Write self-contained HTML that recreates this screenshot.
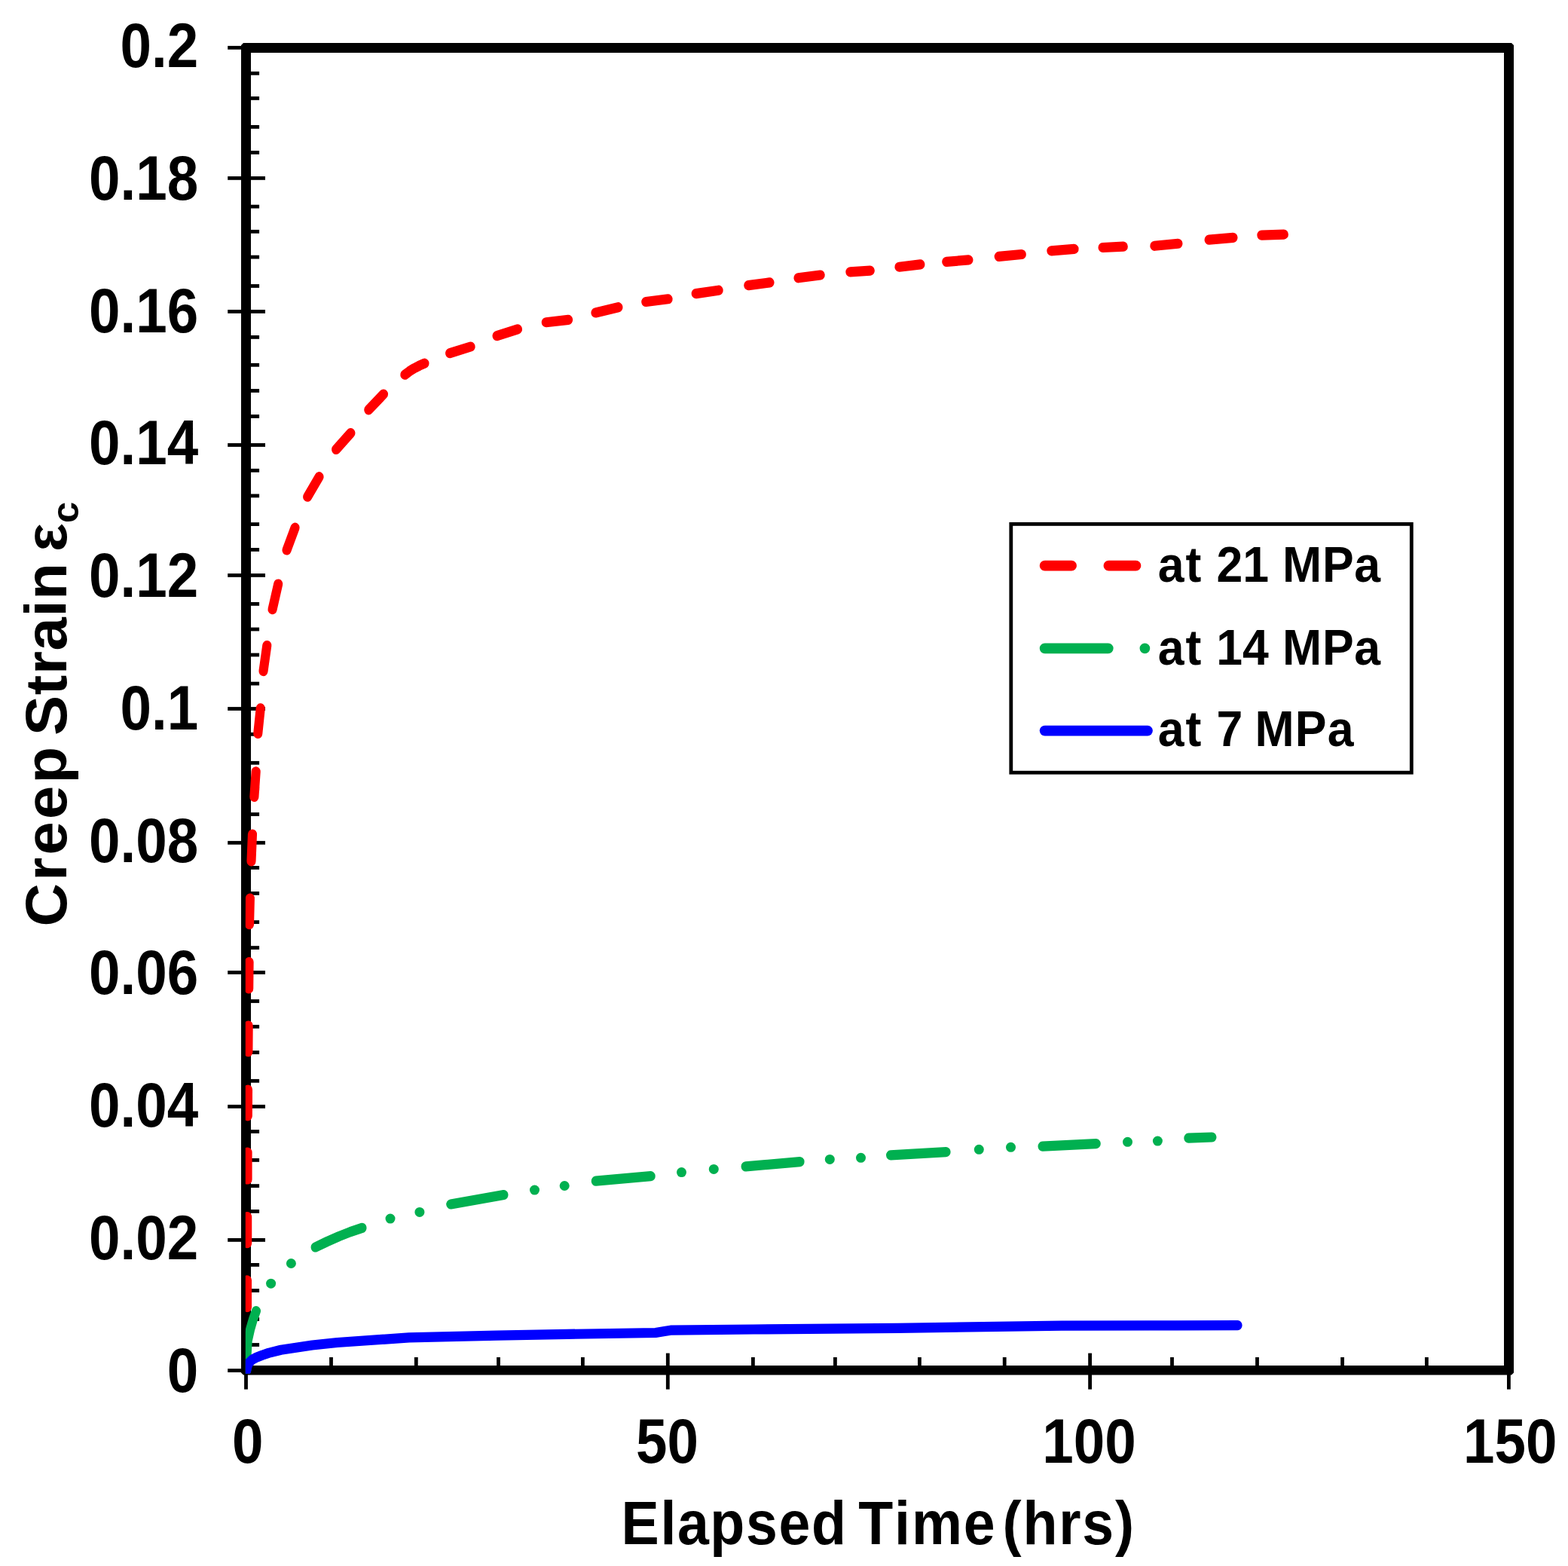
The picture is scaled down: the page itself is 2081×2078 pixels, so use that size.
<!DOCTYPE html>
<html lang="en">
<head>
<meta charset="utf-8">
<title>Creep Strain vs Elapsed Time</title>
<style>
html,body{margin:0;padding:0;background:#fff;}
body{width:2081px;height:2078px;overflow:hidden;}
svg{display:block;}
text{font-family:"Liberation Sans",Arial,Helvetica,sans-serif;font-weight:bold;font-size:100px;fill:#000;font-kerning:none;}
</style>
</head>
<body>
<svg width="2081" height="2078" viewBox="0 0 2081 2078">
<rect x="0" y="0" width="2081" height="2078" fill="#fff"/>
<g fill="#000">
<path fill-rule="evenodd" d="M323 57H2006L2009 60V1821.5L2006 1824.5H323L320 1821.5V60ZM333 70V1812H1996V70Z"/>
<rect x="302.2" y="60.90" width="18.30" height="4.8"/>
<rect x="302.2" y="234.00" width="49.80" height="4.8"/>
<rect x="302.2" y="411.00" width="49.80" height="4.8"/>
<rect x="302.2" y="588.10" width="49.80" height="4.8"/>
<rect x="302.2" y="761.00" width="49.80" height="4.8"/>
<rect x="302.2" y="938.10" width="49.80" height="4.8"/>
<rect x="302.2" y="1115.90" width="49.80" height="4.8"/>
<rect x="302.2" y="1288.00" width="49.80" height="4.8"/>
<rect x="302.2" y="1465.90" width="49.80" height="4.8"/>
<rect x="302.2" y="1643.00" width="49.80" height="4.8"/>
<rect x="302.2" y="1816.20" width="18.30" height="4.8"/>
<rect x="332" y="94.90" width="12.1" height="4.8"/>
<rect x="332" y="128.00" width="12.1" height="4.8"/>
<rect x="332" y="166.00" width="12.1" height="4.8"/>
<rect x="332" y="200.00" width="12.1" height="4.8"/>
<rect x="332" y="271.70" width="12.1" height="4.8"/>
<rect x="332" y="304.90" width="12.1" height="4.8"/>
<rect x="332" y="338.70" width="12.1" height="4.8"/>
<rect x="332" y="377.10" width="12.1" height="4.8"/>
<rect x="332" y="445.00" width="12.1" height="4.8"/>
<rect x="332" y="481.90" width="12.1" height="4.8"/>
<rect x="332" y="516.10" width="12.1" height="4.8"/>
<rect x="332" y="550.10" width="12.1" height="4.8"/>
<rect x="332" y="621.90" width="12.1" height="4.8"/>
<rect x="332" y="655.50" width="12.1" height="4.8"/>
<rect x="332" y="693.20" width="12.1" height="4.8"/>
<rect x="332" y="727.00" width="12.1" height="4.8"/>
<rect x="332" y="799.00" width="12.1" height="4.8"/>
<rect x="332" y="832.60" width="12.1" height="4.8"/>
<rect x="332" y="866.60" width="12.1" height="4.8"/>
<rect x="332" y="904.70" width="12.1" height="4.8"/>
<rect x="332" y="971.90" width="12.1" height="4.8"/>
<rect x="332" y="1009.90" width="12.1" height="4.8"/>
<rect x="332" y="1044.10" width="12.1" height="4.8"/>
<rect x="332" y="1078.10" width="12.1" height="4.8"/>
<rect x="332" y="1149.00" width="12.1" height="4.8"/>
<rect x="332" y="1183.00" width="12.1" height="4.8"/>
<rect x="332" y="1221.20" width="12.1" height="4.8"/>
<rect x="332" y="1255.20" width="12.1" height="4.8"/>
<rect x="332" y="1326.10" width="12.1" height="4.8"/>
<rect x="332" y="1359.90" width="12.1" height="4.8"/>
<rect x="332" y="1394.10" width="12.1" height="4.8"/>
<rect x="332" y="1431.90" width="12.1" height="4.8"/>
<rect x="332" y="1499.10" width="12.1" height="4.8"/>
<rect x="332" y="1537.00" width="12.1" height="4.8"/>
<rect x="332" y="1571.20" width="12.1" height="4.8"/>
<rect x="332" y="1605.00" width="12.1" height="4.8"/>
<rect x="332" y="1676.00" width="12.1" height="4.8"/>
<rect x="332" y="1710.10" width="12.1" height="4.8"/>
<rect x="332" y="1748.10" width="12.1" height="4.8"/>
<rect x="332" y="1782.10" width="12.1" height="4.8"/>
<rect x="324.10" y="1824" width="4.8" height="19.60"/>
<rect x="883.90" y="1795.6" width="4.8" height="48.00"/>
<rect x="1444.20" y="1795.6" width="4.8" height="48.00"/>
<rect x="2000.00" y="1824" width="4.8" height="19.60"/>
<rect x="437.10" y="1801" width="4.8" height="12"/>
<rect x="549.90" y="1801" width="4.8" height="12"/>
<rect x="659.10" y="1801" width="4.8" height="12"/>
<rect x="771.00" y="1801" width="4.8" height="12"/>
<rect x="997.00" y="1801" width="4.8" height="12"/>
<rect x="1106.00" y="1801" width="4.8" height="12"/>
<rect x="1218.00" y="1801" width="4.8" height="12"/>
<rect x="1330.80" y="1801" width="4.8" height="12"/>
<rect x="1553.10" y="1801" width="4.8" height="12"/>
<rect x="1666.10" y="1801" width="4.8" height="12"/>
<rect x="1779.20" y="1801" width="4.8" height="12"/>
<rect x="1891.00" y="1801" width="4.8" height="12"/>
</g>
<clipPath id="plot"><rect x="325.8" y="59" width="1681" height="1763.8"/></clipPath>
<g clip-path="url(#plot)">
<g transform="scale(0.92 1)" fill="none" stroke-width="13.2" stroke-linecap="round" stroke-linejoin="round">
<g stroke="#ff0000">
<polyline points="356.5,1734.6 356.5,1698.8"/>
<polyline points="356.7,1649.6 356.7,1614.6"/>
<polyline points="357.1,1565.0 357.1,1529.2"/>
<polyline points="357.4,1480.8 357.6,1446.0"/>
<polyline points="358.0,1395.7 358.3,1361.0"/>
<polyline points="358.9,1311.8 359.3,1276.6"/>
<polyline points="359.8,1226.7 360.7,1192.0"/>
<polyline points="362.5,1142.8 364.1,1107.0"/>
<polyline points="366.7,1057.5 369.2,1023.8"/>
<polyline points="372.0,973.5 375.8,939.8"/>
<polyline points="379.9,890.6 385.1,856.5"/>
<polyline points="393.0,808.7 401.3,775.0"/>
<polyline points="413.6,730.0 425.6,700.2"/>
<polyline points="443.6,659.2 460.4,632.7"/>
<polyline points="484.9,596.4 505.9,574.7"/>
<polyline points="531.8,543.8 553.2,523.1"/>
<polyline points="584.1,497.2 590.8,492.6 597.8,488.6 604.9,485.2 612.5,482.2"/>
<polyline points="649.0,468.7 678.9,460.0"/>
<polyline points="716.9,445.6 746.7,436.8"/>
<polyline points="787.8,427.7 819.7,424.4"/>
<polyline points="859.2,415.0 891.8,407.7"/>
<polyline points="931.8,400.5 963.7,396.8"/>
<polyline points="1004.0,389.6 1036.6,385.2"/>
<polyline points="1079.7,378.6 1110.3,374.9"/>
<polyline points="1151.6,368.8 1183.3,365.0"/>
<polyline points="1226.5,360.9 1255.2,359.2"/>
<polyline points="1297.2,354.2 1327.6,350.9"/>
<polyline points="1365.5,347.4 1397.2,344.9"/>
<polyline points="1441.0,340.4 1473.7,337.5"/>
<polyline points="1516.7,332.8 1549.5,330.4"/>
<polyline points="1590.8,328.5 1620.4,327.2"/>
<polyline points="1665.6,326.3 1699.4,323.3"/>
<polyline points="1744.1,318.2 1778.8,315.4"/>
<polyline points="1820.0,312.1 1852.0,311.1"/>
</g><g stroke="#00b050">
<polyline points="355.7,1818.6 356.2,1795.0 357.3,1779.0 361.1,1763.5 365.2,1750.5 369.5,1739.6"/>
<polyline points="455.0,1655.0 471.7,1647.6 488.9,1640.6 505.4,1634.6 522.3,1629.4"/>
<polyline points="650.3,1598.0 726.6,1585.6"/>
<polyline points="859.5,1567.2 938.8,1560.7"/>
<polyline points="1075.7,1547.9 1153.8,1541.6"/>
<polyline points="1284.9,1532.8 1364.7,1528.6"/>
<polyline points="1503.9,1521.1 1581.2,1517.6"/>
<polyline points="1714.5,1510.2 1748.3,1509.0"/>
</g>
<polyline stroke="#0000ff" points="355.7,1818.6 357.0,1813.0 359.6,1808.0 363.7,1804.3 369.9,1801.3 378.3,1798.2 387.4,1795.4 405.3,1791.2 450.4,1785.0 486.5,1781.5 590.1,1774.9 716.7,1772.2 818.0,1770.4 945.7,1768.5 958.7,1766.5 967.4,1765.2 1087.0,1764.0 1295.3,1762.3 1531.3,1759.2 1695.7,1758.8 1785.4,1758.6"/>
</g>
<g fill="#00b050">
<circle cx="359.6" cy="1703.2" r="6.5"/>
<circle cx="386.4" cy="1676.5" r="6.5"/>
<circle cx="518" cy="1617.1" r="6.5"/>
<circle cx="556.9" cy="1608.4" r="6.5"/>
<circle cx="709.5" cy="1579.1" r="6.5"/>
<circle cx="749.2" cy="1573.5" r="6.5"/>
<circle cx="904.5" cy="1555.6" r="6.5"/>
<circle cx="947.3" cy="1551.4" r="6.5"/>
<circle cx="1101.3" cy="1538.4" r="6.5"/>
<circle cx="1142.5" cy="1536.3" r="6.5"/>
<circle cx="1299.3" cy="1525.3" r="6.5"/>
<circle cx="1341.5" cy="1522.3" r="6.5"/>
<circle cx="1496.5" cy="1515.3" r="6.5"/>
<circle cx="1536.4" cy="1514.1" r="6.5"/>
</g>
</g>
<rect x="1341.8" y="695.4" width="531.5" height="329.8" fill="#fff" stroke="#000" stroke-width="4.8"/>
<g fill="none" stroke-width="13.7" stroke-linecap="round">
<path stroke="#ff0000" d="M1386.6 750.7H1422.1M1471.4 750.7H1507.5"/>
<path stroke="#00b050" d="M1386.6 860.3H1470.8M1519.4 860.3h0.01"/>
<path stroke="#0000ff" d="M1386.6 969.6H1523"/>
</g>
<g>
<text transform="matrix(0.7460 0 0 0.8360 159.60 89.30)">0.2</text>
<text transform="matrix(0.7460 0 0 0.8360 118.11 265.03)">0.18</text>
<text transform="matrix(0.7460 0 0 0.8360 118.11 440.76)">0.16</text>
<text transform="matrix(0.7460 0 0 0.8360 118.11 616.49)">0.14</text>
<text transform="matrix(0.7460 0 0 0.8360 118.11 792.22)">0.12</text>
<text transform="matrix(0.7460 0 0 0.8360 159.60 967.95)">0.1</text>
<text transform="matrix(0.7460 0 0 0.8360 118.11 1143.68)">0.08</text>
<text transform="matrix(0.7460 0 0 0.8360 118.11 1319.41)">0.06</text>
<text transform="matrix(0.7460 0 0 0.8360 118.11 1495.14)">0.04</text>
<text transform="matrix(0.7460 0 0 0.8360 118.11 1670.87)">0.02</text>
<text transform="matrix(0.7460 0 0 0.8360 221.81 1846.60)">0</text>
<text transform="matrix(0.7460 0 0 0.8360 308.06 1940.60)">0</text>
<text transform="matrix(0.7460 0 0 0.8360 843.91 1940.60)">50</text>
<text transform="matrix(0.7460 0 0 0.8360 1383.17 1940.60)">100</text>
<text transform="matrix(0.7460 0 0 0.8360 1941.97 1940.60)">150</text>
<text transform="matrix(0.7535 0 0 0.8160 0 2049.3)"><tspan x="1094.31" letter-spacing="2.09">Elapsed</tspan> <tspan x="1511.82" letter-spacing="2.55">Time</tspan> <tspan x="1765.82" letter-spacing="2.38">(hrs)</tspan></text>
<text transform="matrix(0.6260 0 0 0.6680 0 772.4)"><tspan x="2454.74" letter-spacing="3.09">at</tspan> <tspan x="2578.91">21</tspan> <tspan x="2718.87" letter-spacing="1.18">MPa</tspan></text>
<text transform="matrix(0.6260 0 0 0.6680 0 882)"><tspan x="2454.74" letter-spacing="3.09">at</tspan> <tspan x="2578.59">14</tspan> <tspan x="2718.87" letter-spacing="1.18">MPa</tspan></text>
<text transform="matrix(0.6260 0 0 0.6680 0 989.8)"><tspan x="2454.74" letter-spacing="3.09">at</tspan> <tspan x="2579.23">7</tspan> <tspan x="2660.4" letter-spacing="1.9">MPa</tspan></text>
<text transform="matrix(0 -0.7950 0.7800 0 88 1300)"><tspan x="88.73" letter-spacing="4.18">Creep</tspan> <tspan x="407.56" letter-spacing="0.91">Strain</tspan> <tspan x="714.48">ε</tspan><tspan x="762.15" dy="20.77" font-size="64">c</tspan></text>
</g>
</svg>
</body>
</html>
